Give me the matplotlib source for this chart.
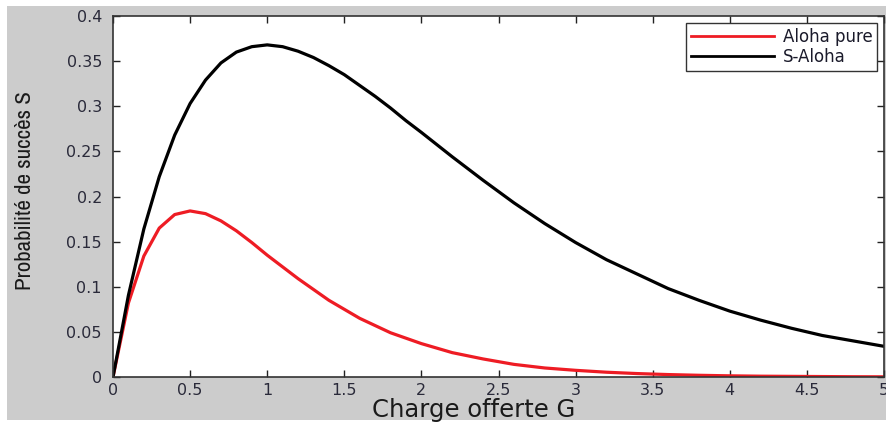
import matplotlib
matplotlib.use("Agg")
import matplotlib.pyplot as plt
from matplotlib.patches import Rectangle

# charge offerte G
G = [0.0, 0.1, 0.2, 0.3, 0.4, 0.5, 0.6, 0.7, 0.8, 0.9, 1.0,
     1.1, 1.2, 1.3, 1.4, 1.5, 1.6, 1.7, 1.8, 1.9, 2.0,
     2.2, 2.4, 2.6, 2.8, 3.0, 3.2, 3.4, 3.6, 3.8, 4.0,
     4.2, 4.4, 4.6, 4.8, 5.0]

# probabilite de succes
aloha_pure = [0.0, 0.082, 0.134, 0.165, 0.180, 0.184, 0.181, 0.173, 0.162, 0.149, 0.135,
              0.122, 0.109, 0.097, 0.085, 0.075, 0.065, 0.057, 0.049, 0.043, 0.037,
              0.027, 0.020, 0.014, 0.010, 0.0074, 0.0053, 0.0038, 0.0027, 0.0019, 0.0013,
              0.0009, 0.0007, 0.0005, 0.0003, 0.0002]
s_aloha = [0.0, 0.0905, 0.164, 0.222, 0.268, 0.303, 0.329, 0.348, 0.360, 0.366, 0.368,
           0.366, 0.361, 0.354, 0.345, 0.335, 0.323, 0.311, 0.298, 0.284, 0.271,
           0.244, 0.218, 0.193, 0.170, 0.149, 0.130, 0.114, 0.098, 0.085, 0.073,
           0.063, 0.054, 0.046, 0.040, 0.034]

xticks = [0, 0.5, 1, 1.5, 2, 2.5, 3, 3.5, 4, 4.5, 5]
xtick_labels = ["0", "0.5", "1", "1.5", "2", "2.5", "3", "3.5", "4", "4.5", "5"]
yticks = [0, 0.05, 0.1, 0.15, 0.2, 0.25, 0.3, 0.35, 0.4]
ytick_labels = ["0", "0.05", "0.1", "0.15", "0.2", "0.25", "0.3", "0.35", "0.4"]

W, H = 886, 423
fig = plt.figure(figsize=(W / 100, H / 100), dpi=100, facecolor="white")
fig.patches.append(Rectangle((7 / W, 1 - 420 / H), 1, (420 - 6) / H,
                             transform=fig.transFigure, facecolor="#cccccc",
                             edgecolor="none", zorder=-10))

ax = fig.add_axes([113 / W, 1 - 377 / H, (884 - 113) / W, (377 - 16) / H])
ax.set_facecolor("white")

ax.plot(G, aloha_pure, color="#ee1c24", lw=2.3, label="Aloha pure")
ax.plot(G, s_aloha, color="black", lw=2.3, label="S-Aloha")

ax.set_xlim(0, 5)
ax.set_ylim(0, 0.4)
ax.set_xticks(xticks)
ax.set_xticklabels(xtick_labels)
ax.set_yticks(yticks)
ax.set_yticklabels(ytick_labels)

tick_color = "#2a2a3a"
ax.tick_params(direction="in", length=5, width=1, top=True, right=True,
               labelsize=11.5, labelcolor=tick_color, color="#222222")
ax.tick_params(axis="x", pad=4)
ax.tick_params(axis="y", pad=8)
for lab in ax.get_xticklabels() + ax.get_yticklabels():
    lab.set_family("DejaVu Sans")
for sp in ax.spines.values():
    sp.set_color("#333333")
    sp.set_linewidth(1.2)

ax.set_xlabel("Charge offerte G", fontsize=17.5, family="DejaVu Sans", color="#1a1a1a")
ax.xaxis.set_label_coords((474 - 113) / 771, -(398 - 377) / 361, transform=ax.transAxes)
ax.xaxis.label.set_va("top")

ax.set_ylabel("Probabilité de succès S", fontsize=16.5, family="Archivo Narrow",
              color="#1a1a1a")
ax.yaxis.set_label_coords((35 - 113) / 771, (377 - 191) / 361, transform=ax.transAxes)

leg = ax.legend(loc="upper right", frameon=True, fancybox=False,
                edgecolor="#333333", framealpha=1, borderaxespad=0.4,
                handlelength=5.0, handletextpad=0.5, borderpad=0.3, labelspacing=0.12,
                prop={"family": "DejaVu Sans", "size": 12})
leg.get_frame().set_linewidth(1.0)
for line in leg.get_lines():
    line.set_linewidth(2)
for t in leg.get_texts():
    t.set_color("#1a1a2a")

fig.savefig("out.png", dpi=100, facecolor=fig.get_facecolor())
